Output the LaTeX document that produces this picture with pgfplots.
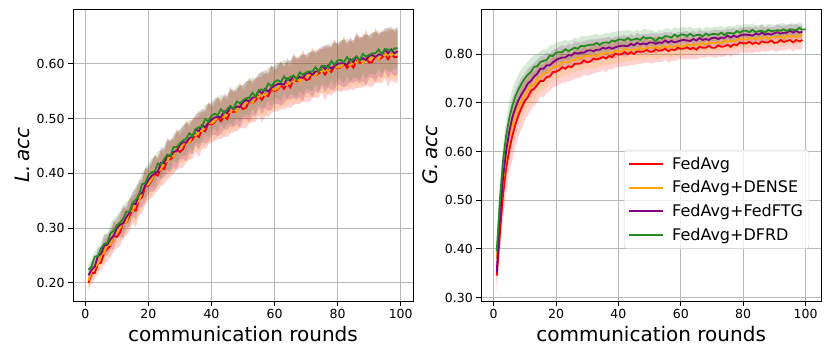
\documentclass[border=0pt]{standalone}
\usepackage{fontspec}
\setmainfont{DejaVu Sans}
\usepackage{pgfplots}
\usepgfplotslibrary{fillbetween}
\pgfplotsset{compat=1.18}
\usepackage{pgfplotstable}

\definecolor{cR}{HTML}{FF0000}
\definecolor{cO}{HTML}{FFA500}
\definecolor{cP}{HTML}{800080}
\definecolor{cG}{HTML}{228B22}

% local accuracy: x, FedAvg, +DENSE, +FedFTG, +DFRD, band half-width
\pgfplotstableread{
x r o p g s
1 0.200 0.204 0.214 0.224 0.012
2 0.218 0.222 0.224 0.230 0.018
3 0.218 0.228 0.230 0.248 0.012
4 0.235 0.235 0.249 0.249 0.018
5 0.237 0.251 0.253 0.263 0.014
6 0.256 0.255 0.268 0.271 0.023
7 0.262 0.271 0.270 0.273 0.021
8 0.268 0.269 0.280 0.291 0.021
9 0.286 0.287 0.286 0.295 0.027
10 0.284 0.293 0.300 0.305 0.021
11 0.292 0.300 0.306 0.310 0.025
12 0.311 0.311 0.309 0.317 0.030
13 0.310 0.310 0.320 0.330 0.023
14 0.322 0.330 0.328 0.330 0.028
15 0.334 0.332 0.344 0.346 0.024
16 0.332 0.344 0.344 0.352 0.031
17 0.352 0.350 0.362 0.360 0.029
18 0.356 0.364 0.364 0.380 0.028
19 0.376 0.378 0.378 0.382 0.034
20 0.378 0.380 0.388 0.396 0.027
21 0.386 0.388 0.395 0.402 0.031
22 0.399 0.401 0.400 0.403 0.035
23 0.396 0.404 0.403 0.418 0.028
24 0.410 0.408 0.419 0.416 0.033
25 0.408 0.420 0.419 0.426 0.028
26 0.424 0.422 0.433 0.434 0.035
27 0.426 0.434 0.431 0.432 0.032
28 0.430 0.430 0.439 0.448 0.031
29 0.444 0.444 0.441 0.448 0.037
30 0.439 0.447 0.452 0.455 0.030
31 0.444 0.452 0.457 0.460 0.034
32 0.459 0.459 0.456 0.463 0.038
33 0.455 0.455 0.464 0.473 0.031
34 0.462 0.470 0.467 0.468 0.035
35 0.471 0.469 0.480 0.481 0.031
36 0.466 0.478 0.477 0.484 0.037
37 0.479 0.477 0.488 0.485 0.034
38 0.477 0.485 0.484 0.499 0.033
39 0.491 0.493 0.492 0.495 0.039
40 0.489 0.491 0.498 0.505 0.032
41 0.493 0.495 0.502 0.509 0.035
42 0.502 0.504 0.503 0.506 0.039
43 0.495 0.503 0.502 0.517 0.033
44 0.504 0.502 0.513 0.510 0.037
45 0.499 0.511 0.510 0.517 0.033
46 0.513 0.511 0.522 0.523 0.040
47 0.512 0.520 0.517 0.518 0.037
48 0.513 0.513 0.522 0.531 0.036
49 0.524 0.524 0.521 0.528 0.042
50 0.517 0.525 0.530 0.533 0.035
51 0.520 0.528 0.534 0.537 0.038
52 0.533 0.533 0.531 0.538 0.042
53 0.528 0.528 0.538 0.547 0.035
54 0.533 0.541 0.539 0.540 0.039
55 0.541 0.539 0.551 0.552 0.035
56 0.534 0.546 0.546 0.553 0.042
57 0.544 0.542 0.554 0.551 0.039
58 0.541 0.549 0.549 0.564 0.038
59 0.554 0.556 0.556 0.559 0.044
60 0.550 0.552 0.560 0.567 0.037
61 0.553 0.555 0.563 0.570 0.040
62 0.561 0.563 0.563 0.566 0.044
63 0.554 0.562 0.562 0.577 0.038
64 0.563 0.561 0.573 0.570 0.042
65 0.557 0.569 0.569 0.576 0.038
66 0.570 0.567 0.578 0.578 0.045
67 0.568 0.575 0.572 0.572 0.042
68 0.568 0.567 0.576 0.584 0.041
69 0.578 0.577 0.574 0.580 0.047
70 0.570 0.577 0.582 0.584 0.039
71 0.572 0.579 0.584 0.586 0.042
72 0.584 0.583 0.580 0.586 0.046
73 0.578 0.577 0.586 0.594 0.040
74 0.582 0.589 0.586 0.586 0.044
75 0.588 0.585 0.596 0.596 0.040
76 0.580 0.591 0.590 0.596 0.047
77 0.589 0.586 0.597 0.593 0.044
78 0.585 0.592 0.591 0.605 0.043
79 0.596 0.597 0.596 0.598 0.049
80 0.592 0.593 0.600 0.606 0.041
81 0.593 0.594 0.601 0.607 0.045
82 0.601 0.602 0.601 0.603 0.049
83 0.592 0.599 0.598 0.612 0.042
84 0.600 0.597 0.608 0.604 0.046
85 0.593 0.604 0.603 0.609 0.042
86 0.605 0.602 0.613 0.613 0.049
87 0.602 0.609 0.606 0.606 0.046
88 0.602 0.601 0.610 0.618 0.045
89 0.611 0.610 0.607 0.613 0.051
90 0.602 0.609 0.614 0.616 0.043
91 0.603 0.611 0.616 0.619 0.046
92 0.615 0.615 0.612 0.619 0.050
93 0.608 0.608 0.617 0.626 0.043
94 0.611 0.619 0.616 0.617 0.047
95 0.617 0.615 0.626 0.627 0.043
96 0.608 0.620 0.619 0.626 0.050
97 0.617 0.615 0.626 0.623 0.047
98 0.612 0.620 0.619 0.628 0.046
99 0.613 0.617 0.623 0.628 0.048
}\localacc

% global accuracy
\pgfplotstableread{
x r o p g s
1 0.345 0.380 0.352 0.395 0.030
2 0.430 0.470 0.460 0.500 0.044
3 0.510 0.540 0.545 0.580 0.047
4 0.565 0.590 0.600 0.632 0.051
5 0.602 0.627 0.640 0.668 0.048
6 0.632 0.656 0.670 0.694 0.049
7 0.656 0.677 0.690 0.713 0.046
8 0.675 0.693 0.706 0.728 0.043
9 0.691 0.706 0.718 0.740 0.044
10 0.704 0.716 0.728 0.750 0.039
11 0.712 0.726 0.740 0.758 0.038
12 0.725 0.735 0.745 0.764 0.039
13 0.729 0.737 0.754 0.774 0.035
14 0.737 0.749 0.760 0.775 0.036
15 0.745 0.752 0.770 0.784 0.032
16 0.745 0.760 0.770 0.786 0.034
17 0.753 0.761 0.777 0.788 0.032
18 0.754 0.767 0.777 0.797 0.030
19 0.763 0.773 0.783 0.796 0.032
20 0.764 0.774 0.788 0.803 0.029
21 0.767 0.777 0.791 0.804 0.030
22 0.773 0.783 0.793 0.804 0.032
23 0.770 0.783 0.793 0.810 0.028
24 0.775 0.783 0.798 0.806 0.030
25 0.773 0.788 0.797 0.810 0.027
26 0.780 0.788 0.803 0.813 0.030
27 0.780 0.793 0.801 0.811 0.029
28 0.781 0.790 0.803 0.817 0.028
29 0.787 0.796 0.803 0.816 0.030
30 0.783 0.796 0.807 0.818 0.027
31 0.785 0.796 0.808 0.819 0.028
32 0.791 0.798 0.806 0.819 0.030
33 0.789 0.795 0.809 0.823 0.027
34 0.791 0.801 0.809 0.819 0.028
35 0.794 0.799 0.813 0.823 0.025
36 0.791 0.803 0.811 0.824 0.028
37 0.796 0.801 0.814 0.823 0.027
38 0.794 0.803 0.811 0.828 0.026
39 0.801 0.807 0.814 0.826 0.028
40 0.799 0.805 0.816 0.830 0.025
41 0.800 0.806 0.817 0.830 0.026
42 0.804 0.810 0.817 0.828 0.028
43 0.800 0.809 0.816 0.833 0.025
44 0.804 0.808 0.821 0.829 0.026
45 0.800 0.810 0.818 0.830 0.023
46 0.806 0.809 0.823 0.832 0.026
47 0.805 0.813 0.820 0.829 0.025
48 0.805 0.809 0.822 0.835 0.024
49 0.809 0.813 0.820 0.832 0.026
50 0.805 0.813 0.824 0.834 0.023
51 0.805 0.813 0.824 0.832 0.024
52 0.810 0.814 0.821 0.826 0.026
53 0.807 0.811 0.824 0.834 0.023
54 0.808 0.816 0.823 0.832 0.024
55 0.811 0.814 0.828 0.837 0.022
56 0.806 0.816 0.824 0.836 0.024
57 0.810 0.813 0.827 0.834 0.023
58 0.808 0.816 0.824 0.840 0.022
59 0.813 0.818 0.826 0.836 0.024
60 0.811 0.816 0.828 0.840 0.021
61 0.811 0.816 0.829 0.840 0.022
62 0.814 0.819 0.828 0.837 0.024
63 0.810 0.819 0.827 0.842 0.021
64 0.813 0.817 0.831 0.837 0.022
65 0.809 0.820 0.828 0.839 0.020
66 0.815 0.819 0.833 0.840 0.022
67 0.813 0.823 0.829 0.836 0.021
68 0.813 0.819 0.831 0.842 0.020
69 0.817 0.823 0.829 0.839 0.022
70 0.813 0.823 0.833 0.841 0.019
71 0.813 0.823 0.834 0.841 0.021
72 0.818 0.824 0.831 0.840 0.023
73 0.815 0.822 0.834 0.844 0.020
74 0.816 0.827 0.833 0.839 0.021
75 0.819 0.825 0.838 0.844 0.019
76 0.815 0.828 0.834 0.843 0.021
77 0.820 0.826 0.838 0.842 0.020
78 0.818 0.829 0.835 0.847 0.019
79 0.824 0.832 0.838 0.844 0.021
80 0.822 0.830 0.840 0.848 0.018
81 0.822 0.830 0.840 0.848 0.020
82 0.825 0.833 0.839 0.845 0.022
83 0.821 0.832 0.838 0.850 0.019
84 0.824 0.830 0.842 0.845 0.020
85 0.821 0.834 0.840 0.847 0.018
86 0.826 0.832 0.844 0.848 0.020
87 0.824 0.835 0.840 0.844 0.019
88 0.824 0.831 0.842 0.850 0.018
89 0.828 0.835 0.840 0.847 0.020
90 0.823 0.834 0.843 0.848 0.017
91 0.824 0.835 0.845 0.849 0.019
92 0.829 0.836 0.842 0.848 0.021
93 0.825 0.832 0.844 0.851 0.018
94 0.827 0.838 0.844 0.847 0.019
95 0.829 0.835 0.848 0.851 0.017
96 0.824 0.837 0.844 0.850 0.019
97 0.829 0.835 0.848 0.849 0.018
98 0.826 0.837 0.844 0.854 0.017
99 0.829 0.839 0.846 0.850 0.019
}\globalacc

% shaded band: table, column, colour, width factor
\newcommand{\band}[4]{%
  \addplot[draw=none, forget plot, name path=up#2] table[x=x, y expr=\thisrow{#2}+#4*\thisrow{s}] {#1};
  \addplot[draw=none, forget plot, name path=lo#2] table[x=x, y expr=\thisrow{#2}-#4*\thisrow{s}] {#1};
  \addplot[fill=#3, fill opacity=0.18, draw=none, forget plot] fill between[of=up#2 and lo#2];
}

\pgfplotsset{
  accstyle/.style={
    scale only axis,
    anchor=south west,
    axis line style={line width=0.9pt},
    tick pos=left,
    tick align=outside,
    major tick length=5pt,
    every tick/.style={black, line width=0.9pt},
    grid=major,
    grid style={line width=0.9pt, draw=black!28},
    xtick={0,20,40,60,80,100},
    tick label style={font=\fontsize{12.5}{15}\selectfont},
    /pgf/number format/assume math mode=true,
    yticklabel style={/pgf/number format/.cd, fixed, fixed zerofill, precision=2},
    label style={font=\fontsize{20}{24}\selectfont},
    xlabel={communication rounds},
    legend image code/.code={\draw[#1, line width=2pt] (0pt,0pt) -- (34pt,0pt);},
  },
  ln/.style={line width=1.8pt},
}

\begin{document}
\begin{tikzpicture}

\begin{axis}[accstyle,
  at={(73pt,57pt)}, width=340pt, height=291.5pt,
  xmin=-3.9, xmax=103.9, ymin=0.167, ymax=0.699,
  ytick={0.2,0.3,0.4,0.5,0.6},
  ylabel={\itshape L.\,acc},
]
  \band{\localacc}{r}{cR}{1.0}
  \band{\localacc}{o}{cO}{0.95}
  \band{\localacc}{p}{cP}{0.9}
  \band{\localacc}{g}{cG}{0.8}
  \addplot[ln, cR] table[x=x, y=r] {\localacc};
  \addplot[ln, cO] table[x=x, y=o] {\localacc};
  \addplot[ln, cP] table[x=x, y=p] {\localacc};
  \addplot[ln, cG] table[x=x, y=g] {\localacc};
\end{axis}

\begin{axis}[accstyle,
  at={(481.3pt,57pt)}, width=339.7pt, height=291.7pt,
  xmin=-3.95, xmax=104.95, ymin=0.293, ymax=0.892,
  ytick={0.3,0.4,0.5,0.6,0.7,0.8},
  ylabel={\itshape G.\,acc},
  legend cell align=left,
  legend style={at={(0.42,0.518)}, anchor=north west,
    font=\fontsize{16}{18.5}\selectfont,
    draw=black!20, rounded corners=3pt, fill=white, fill opacity=0.8, text opacity=1,
    row sep=6pt, inner xsep=4pt, inner ysep=5pt,
    /tikz/every odd column/.append style={column sep=6pt}},
]
  \band{\globalacc}{r}{cR}{1.0}
  \band{\globalacc}{o}{cO}{0.9}
  \band{\globalacc}{p}{cP}{0.8}
  \band{\globalacc}{g}{cG}{0.7}
  \addplot[ln, cR] table[x=x, y=r] {\globalacc};
  \addlegendentry{FedAvg}
  \addplot[ln, cO] table[x=x, y=o] {\globalacc};
  \addlegendentry{FedAvg+DENSE}
  \addplot[ln, cP] table[x=x, y=p] {\globalacc};
  \addlegendentry{FedAvg+FedFTG}
  \addplot[ln, cG] table[x=x, y=g] {\globalacc};
  \addlegendentry{FedAvg+DFRD}
  \addplot[ln, cG, forget plot] coordinates {(99,0.850) (100,0.851)};
\end{axis}
\path (0,0) rectangle (831pt,358pt);
\end{tikzpicture}
\end{document}
